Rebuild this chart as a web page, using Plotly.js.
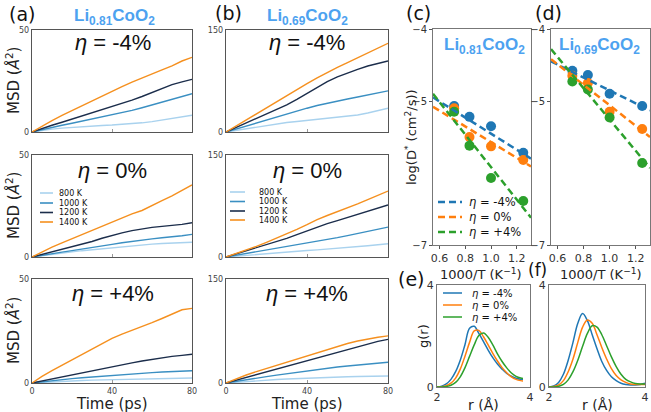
<!DOCTYPE html>
<html>
<head>
<meta charset="utf-8">
<script src="https://cdn.plot.ly/plotly-3.0.1.min.js"></script>
<style>body{margin:0;background:#fff;} #chart{width:651px;height:412px;}</style>
</head>
<body>
<div id="chart"></div>
<script>
// MSD time axis (ps)
var time = [0,5,10,15,20,25,30,35,40,45,50,55,60,65,70,75,80];
var tempLabels = ['800 K','1000 K','1200 K','1400 K'];
var tempColors = ['#a9d2ee','#3a8fc2','#1b2d4b','#f5901f'];

// Li0.81CoO2, order: 800, 1000, 1200, 1400 K
var msdA_m4 = [
  [0,0.8,1.4,1.9,2.3,2.7,3.0,3.2,3.4,3.7,4.0,4.5,5.1,5.9,6.8,7.5,8.2],
  [0,1.2,2.3,3.3,4.3,5.3,6.3,7.3,8.3,9.4,10.6,11.9,13.3,14.8,16.2,17.5,18.8],
  [0,1.8,3.3,4.8,6.3,7.8,9.3,10.9,12.4,14,15.6,17.4,19.3,21.3,23.2,24.6,25.8],
  [0,3,5.6,8.1,10.5,12.8,15.2,17.4,19.8,22.2,24.5,26.6,28.6,30.5,32.4,34.8,36.6]
];
var msdA_0 = [
  [0,0.7,1.3,1.9,2.5,3.1,3.6,4.1,4.6,5.1,5.6,6,6.3,6.6,6.8,7,7.2],
  [0,0.9,1.7,2.4,3.1,3.8,4.6,5.4,6.2,7,7.7,8.3,8.9,9.4,9.8,10.4,11.1],
  [0,1.3,2.6,3.8,5,6.2,7.6,9.2,10.6,11.8,12.9,13.8,14.5,15,15.4,16,16.8],
  [0,2.5,4.8,6.9,8.9,11,13,15.1,17.2,19.2,21.1,22.8,25,27.6,30,32.5,35.3]
];
var msdA_p4 = [
  [0,0.3,0.6,0.8,1,1.2,1.4,1.5,1.7,1.8,1.9,2,2.1,2.2,2.3,2.3,2.4],
  [0,0.6,1.1,1.6,2.1,2.5,2.9,3.3,3.7,4.1,4.4,4.7,5,5.3,5.5,5.7,5.9],
  [0,1,1.9,2.8,3.7,4.7,5.7,6.8,7.8,8.8,9.7,10.6,11.4,12.2,12.8,13.3,13.8],
  [0,3.2,5.9,8.5,11.1,13.7,16.3,19,21.5,23.5,25.3,27,29,31,33.2,35.2,35.9]
];
// Li0.69CoO2
var msdB_m4 = [
  [0,2.5,5,7.5,10,12,14,15.5,17,18.5,20,21.5,23,25,28,31.5,35],
  [0,4.5,9,13.5,18,22.5,27,31,35,39,42.5,45.5,48.5,51.5,54.5,57.5,60.5],
  [0,6.5,13,19.5,26,33,40,48,57,66,74,81,87,92,97,101,104.5],
  [0,9,18,27,36,45,53.5,62,71,79.5,87.5,95,102,109,116,123,130.5]
];
var msdB_0 = [
  [0,1.3,2.6,3.8,5,6.2,7.4,8.5,9.6,10.5,11.5,12.5,13.6,15,16.5,18,19.5],
  [0,2.5,5,7.5,10,12.5,15,17.5,20,22.5,25.5,28.5,31.5,34.5,38,41,44],
  [0,4.5,9,13.5,18,22.5,27.5,33,38.5,44,49,53.5,58,62.5,67,72,76.5],
  [0,5,10,15.5,21.5,27.5,34,40.5,47.5,55,61,66.5,72,78,84.5,90.5,97]
];
var msdB_p4 = [
  [0,1.2,2.3,3.3,4.2,5,5.8,6.5,7.2,7.8,8.3,8.7,9,9.3,9.6,9.8,10],
  [0,2.5,4.8,7,9.2,11.3,13.4,15.5,17.5,19.5,21.3,23,24.6,26.1,27.5,28.8,30],
  [0,4,8,12,16,20,24,28,32,36.5,41,45,49,53,56.5,60,63],
  [0,6,11.5,16.5,21,25.5,30,34.5,39.5,44.5,49,53,57,60.5,63.5,66,68]
];

// Arrhenius panels: 1000/T for 1400, 1200, 1000, 800 K
var invT = [0.714, 0.833, 1.0, 1.25];
var etaLabels = ['\u03b7 = -4%', '\u03b7 = 0%', '\u03b7 = +4%'];
var etaColors = ['#1f77b4', '#ff7f0e', '#2ca02c'];
var logD_81 = [
  [-5.07, -5.22, -5.35, -5.72],
  [-5.10, -5.50, -5.63, -5.82],
  [-5.15, -5.62, -6.07, -6.39]
];
var logD_69 = [
  [-4.58, -4.64, -4.90, -5.07],
  [-4.65, -4.75, -5.15, -5.39],
  [-4.73, -4.84, -5.23, -5.86]
];
var fitX = [0.55, 1.31];
var fit_81 = [[-4.95, -5.80], [-5.08, -5.91], [-4.90, -6.62]];
var fit_69 = [[-4.45, -5.13], [-4.42, -5.50], [-4.28, -5.93]];

// g(r)
var rE = [2.0,2.1,2.2,2.3,2.4,2.5,2.6,2.7,2.8,2.9,3.0,3.1,3.2,3.3,3.4,3.5,3.6,3.7,3.8,3.85];
var gr_81 = [
  [0,0.03,0.12,0.3,0.6,1.05,1.65,2.3,2.38,2.1,1.78,1.45,1.15,0.9,0.7,0.53,0.42,0.34,0.3,0.3],
  [0,0.01,0.05,0.15,0.35,0.7,1.2,1.75,2.2,2.22,1.97,1.65,1.32,1.02,0.76,0.56,0.4,0.3,0.25,0.24],
  [0,0,0.02,0.07,0.18,0.4,0.75,1.2,1.65,2.02,2.12,1.95,1.65,1.3,1.0,0.75,0.55,0.42,0.35,0.33]
];
var rF = [2.0,2.1,2.2,2.3,2.4,2.5,2.6,2.7,2.8,2.9,3.0,3.1,3.2,3.3,3.4,3.5,3.6,3.7,3.8,3.9,4.0];
var gr_69 = [
  [0,0.04,0.18,0.5,1.05,1.75,2.5,2.88,2.6,2.05,1.5,1.0,0.65,0.4,0.25,0.15,0.1,0.08,0.08,0.1,0.15],
  [0,0.02,0.08,0.25,0.6,1.1,1.75,2.35,2.63,2.5,2.05,1.55,1.1,0.72,0.45,0.28,0.18,0.12,0.1,0.1,0.1],
  [0,0,0.03,0.1,0.28,0.6,1.05,1.6,2.1,2.4,2.35,2.05,1.62,1.18,0.8,0.5,0.3,0.2,0.14,0.12,0.12]
];

var W = 651, H = 412;
function xd(a, b) { return [a / W, b / W]; }
function yd(a, b) { return [1 - b / H, 1 - a / H]; }
function px(x) { return x / W; }
function py(y) { return 1 - y / H; }

var layout = {
  width: W, height: H,
  margin: {l: 0, r: 0, t: 0, b: 0},
  showlegend: false,
  paper_bgcolor: '#fff', plot_bgcolor: '#fff',
  font: {family: 'DejaVu Sans', color: '#222'},
  annotations: [], shapes: []
};
var data = [];

function axes(n, xdom, ydom, xo, yo) {
  var s = n === 1 ? '' : String(n);
  var base = {showline: true, mirror: true, zeroline: false, showgrid: false, linecolor: '#555', linewidth: 1.3};
  layout['xaxis' + s] = Object.assign({domain: xdom, anchor: 'y' + s}, base, xo);
  layout['yaxis' + s] = Object.assign({domain: ydom, anchor: 'x' + s}, base, yo);
  return s;
}

// MSD panels
var colA = xd(32, 192), colB = xd(226, 388);
var rows = [yd(30, 132), yd(155, 257), yd(279, 383)];
var msdPanels = [
  [msdA_m4, colA, 0, 50], [msdA_0, colA, 1, 50], [msdA_p4, colA, 2, 50],
  [msdB_m4, colB, 0, 150], [msdB_0, colB, 1, 150], [msdB_p4, colB, 2, 150]
];
var smallTick = {size: 8, color: '#444', family: 'DejaVu Sans'};
msdPanels.forEach(function (p, i) {
  var bottom = p[2] === 2;
  var s = axes(i + 1, p[1], rows[p[2]],
    {range: [0, 80], tickvals: [0, 40, 80], ticks: 'inside', ticklen: 3, tickcolor: '#999',
     showticklabels: bottom, tickfont: smallTick},
    {range: [0, p[3]], tickvals: [0, p[3]], ticks: '', tickfont: smallTick});
  p[0].forEach(function (ys, k) {
    data.push({x: time, y: ys, xaxis: 'x' + s, yaxis: 'y' + s, mode: 'lines',
      line: {color: tempColors[k], width: 1.4}, name: tempLabels[k]});
  });
});

// Arrhenius panels
var arrY = yd(29, 245);
var arrTick = {size: 11, color: '#333', family: 'DejaVu Sans'};
[[logD_81, fit_81, xd(433, 531)], [logD_69, fit_69, xd(551, 650)]].forEach(function (p, i) {
  var s = axes(7 + i, p[2], arrY,
    {range: [0.55, 1.31], tickvals: [0.6, 0.8, 1.0, 1.2], ticktext: ['0.6', '0.8', '1.0', '1.2'],
     ticks: 'outside', ticklen: 3, tickcolor: '#555', tickfont: arrTick, linecolor: '#777', linewidth: 1},
    {range: [-7, -4], tickvals: [-4, -5, -7], ticks: 'outside', ticklen: 3, tickcolor: '#555',
     tickfont: {size: 10, color: '#333', family: 'DejaVu Sans'}, linecolor: '#777', linewidth: 1});
  p[0].forEach(function (ys, k) {
    data.push({x: invT, y: ys, xaxis: 'x' + s, yaxis: 'y' + s, mode: 'markers',
      marker: {color: etaColors[k], size: 10}, name: etaLabels[k]});
  });
  p[1].forEach(function (ys, k) {
    data.push({x: fitX, y: ys, xaxis: 'x' + s, yaxis: 'y' + s, mode: 'lines',
      line: {color: etaColors[k], width: 2.5, dash: '7px,4px'}, name: etaLabels[k]});
  });
});

// g(r) panels
var grY = yd(285, 387);
var grTick = {size: 11, color: '#333', family: 'DejaVu Sans'};
[[rE, gr_81, xd(437, 530)], [rF, gr_69, xd(549, 645)]].forEach(function (p, i) {
  var s = axes(9 + i, p[2], grY,
    {range: [2, 4], tickvals: [2, 4], ticks: '', tickfont: grTick, linecolor: '#777', linewidth: 1},
    {range: [0, 4], tickvals: [0, 4], ticks: '', tickfont: grTick, linecolor: '#777', linewidth: 1});
  p[1].forEach(function (ys, k) {
    data.push({x: p[0], y: ys, xaxis: 'x' + s, yaxis: 'y' + s, mode: 'lines',
      line: {color: etaColors[k], width: 1.5, shape: 'spline'}, name: etaLabels[k]});
  });
});

// text helpers
function note(x, y, text, size, opt) {
  layout.annotations.push(Object.assign({xref: 'paper', yref: 'paper', x: px(x), y: py(y),
    text: text, showarrow: false, xanchor: 'center', yanchor: 'middle',
    font: {size: size, color: '#111', family: 'Liberation Sans'}}, opt || {}));
}

// panel letters
[['(a)', 22, 14, 19], ['(b)', 228, 13, 19], ['(c)', 418, 13, 19], ['(d)', 548, 13, 19],
 ['(e)', 411, 279, 19], ['(f)', 537, 270, 17]]
  .forEach(function (l) { note(l[1], l[2], l[0], l[3], {font: {size: l[3], color: '#111', family: 'DejaVu Sans'}}); });

// composition titles
var blue = '#4da2f0';
var titleFont = {size: 17, color: blue, family: 'Liberation Sans'};
var li81 = '<b>Li<sub>0.81</sub>CoO<sub>2</sub></b>', li69 = '<b>Li<sub>0.69</sub>CoO<sub>2</sub></b>';
note(114, 17, li81, 17, {font: titleFont});
note(307, 17, li69, 17, {font: titleFont});
note(484, 46, li81, 17, {font: titleFont});
note(599, 46, li69, 17, {font: titleFont});

// eta labels on MSD panels
var etaRowY = [43, 170, 293];
etaRowY.forEach(function (y, r) {
  var t = '<i>\u03b7</i> = ' + ['-4%', '0%', '+4%'][r];
  note(113, y, t, 22);
  note(307, y, t, 22);
});

// axis titles
var axFont = {size: 15, color: '#222', family: 'DejaVu Sans'};
[81, 206, 331].forEach(function (y) {
  note(13, y, 'MSD (<i>\u00c5</i><sup>2</sup>)', 15, {textangle: -90, font: axFont});
});
var timeFont = {size: 15, color: '#222', family: 'DejaVu Sans'};
note(112, 404, 'Time (ps)', 15, {font: timeFont});
note(307, 404, 'Time (ps)', 15, {font: timeFont});
note(411, 137, 'log(D<sup>*</sup> (cm<sup>2</sup>/s))', 13, {textangle: -90, font: {size: 13, color: '#222', family: 'DejaVu Sans'}});
var invFont = {size: 13, color: '#222', family: 'DejaVu Sans'};
note(481, 274, '1000/T (K<sup>\u22121</sup>)', 13, {font: invFont});
note(601, 274, '1000/T (K<sup>\u22121</sup>)', 13, {font: invFont});
note(423, 336, 'g(r)', 13, {textangle: -90, font: {size: 13, color: '#222', family: 'DejaVu Sans'}});
note(483, 405, 'r (\u00c5)', 14, {font: {size: 14, color: '#222', family: 'DejaVu Sans'}});
note(597, 405, 'r (\u00c5)', 14, {font: {size: 14, color: '#222', family: 'DejaVu Sans'}});

// hand-drawn legends
function legendEntry(x0, x1, y, color, width, dash, label, tx, size) {
  layout.shapes.push({type: 'line', xref: 'paper', yref: 'paper', x0: px(x0), x1: px(x1), y0: py(y), y1: py(y),
    line: {color: color, width: width, dash: dash || 'solid'}});
  note(tx, y, label, size, {xanchor: 'left', font: {size: size, color: '#111', family: 'DejaVu Sans'}});
}
[193, 203, 212.5, 222].forEach(function (y, k) {
  legendEntry(40, 53, y, tempColors[k], 1.6, null, tempLabels[k], 57, 8);
});
[192, 201.5, 211, 220].forEach(function (y, k) {
  legendEntry(230, 245, y, tempColors[k], 1.6, null, tempLabels[k], 257, 8);
});
[202, 217, 232].forEach(function (y, k) {
  legendEntry(438, 462, y, etaColors[k], 2.5, '7px,4px', '<i>\u03b7</i> = ' + ['-4%', '0%', '+4%'][k], 467, 11.5);
});
[293, 305, 317].forEach(function (y, k) {
  legendEntry(443, 462, y, etaColors[k], 1.5, null, '<i>\u03b7</i> = ' + ['-4%', '0%', '+4%'][k], 470, 10);
});

Plotly.newPlot('chart', data, layout, {staticPlot: true, displayModeBar: false});
</script>
</body>
</html>
